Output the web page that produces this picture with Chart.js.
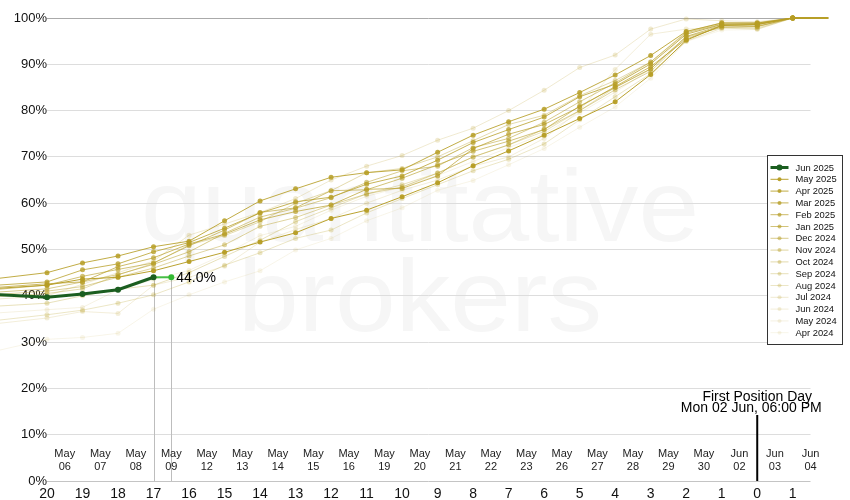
<!DOCTYPE html>
<html><head><meta charset="utf-8">
<script src="https://cdn.jsdelivr.net/npm/chart.js@4/dist/chart.umd.min.js"></script>
<style>html,body{margin:0;padding:0;background:#fff}canvas{display:block}</style>
</head><body>
<canvas id="c" width="850" height="500"></canvas>
<script>
// ---- tick labels ----
const dayLabels = ['20','19','18','17','16','15','14','13','12','11','10','9','8','7','6','5','4','3','2','1','0','1'];
const dateLabels = [['May','06'],['May','07'],['May','08'],['May','09'],['May','12'],['May','13'],['May','14'],['May','15'],['May','16'],['May','19'],['May','20'],['May','21'],['May','22'],['May','23'],['May','26'],['May','27'],['May','28'],['May','29'],['May','30'],['Jun','02'],['Jun','03'],['Jun','04']];
const firstPositionIndex = 20;
const firstPositionText = ['First Position Day', 'Mon 02 Jun, 06:00 PM'];

// ---- current contract ----
const jun2025 = [39.7, 40.4, 41.3, 44.0];
const jun2025Lead = 40.5;
const nowIndex = 3.5;
const nowValue = 44.0;

// ---- previous contracts (values for days 20..0, then 1) ----
const seriesNames = ['May 2025','Apr 2025','Mar 2025','Feb 2025','Jan 2025','Dec 2024','Nov 2024','Oct 2024','Sep 2024','Aug 2024','Jul 2024','Jun 2024','May 2024','Apr 2024'];
const may2025 = [42.3, 43.6, 44.0, 45.4, 47.4, 49.4, 51.6, 53.6, 56.7, 58.5, 61.4, 64.4, 68.1, 71.3, 74.7, 78.3, 81.9, 87.8, 95.2, 98.4, 98.6, 100];
const apr2025 = [45.0, 47.1, 48.6, 50.6, 51.8, 56.2, 60.5, 63.1, 65.6, 66.6, 67.2, 71.0, 74.7, 77.6, 80.3, 83.9, 87.7, 91.9, 97.1, 98.9, 98.9, 100];
const mar2025 = [43.0, 45.6, 46.9, 49.5, 51.5, 54.6, 57.9, 60.3, 61.3, 64.1, 65.9, 69.3, 73.1, 75.9, 78.6, 83.0, 85.7, 90.1, 96.5, 98.6, 98.7, 100];
const feb2025 = [42.6, 43.0, 46.3, 48.2, 51.2, 53.3, 56.4, 58.2, 59.6, 63.0, 63.2, 65.9, 71.8, 74.9, 77.0, 80.8, 85.2, 89.5, 95.4, 98.3, 98.2, 100];
const jan2025 = [42.3, 44.2, 45.7, 47.1, 50.8, 54.2, 58.0, 59.0, 62.7, 62.9, 65.4, 68.3, 71.2, 73.4, 75.9, 81.0, 85.0, 89.0, 96.0, 98.4, 98.5, 100];
const dec2024 = [41.5, 43.0, 44.6, 46.8, 49.5, 53.5, 57.0, 58.9, 61.2, 64.5, 67.0, 68.0, 72.0, 74.0, 77.5, 81.9, 86.0, 90.5, 96.8, 98.7, 98.8, 100];
const nov2024 = [41.0, 42.0, 44.0, 46.0, 48.6, 51.0, 55.0, 56.9, 59.6, 62.0, 63.5, 66.5, 70.0, 72.6, 76.0, 80.0, 84.5, 88.5, 95.8, 98.0, 98.1, 100];
const oct2024 = [40.5, 41.5, 44.5, 47.0, 51.0, 53.0, 56.0, 60.0, 62.7, 66.6, 67.5, 70.0, 73.5, 77.0, 79.0, 83.2, 86.5, 90.5, 97.0, 99.0, 99.0, 100];
const sep2024 = [38.4, 40.0, 41.4, 42.3, 45.0, 48.5, 52.0, 56.0, 59.0, 62.0, 64.0, 66.5, 70.0, 72.6, 75.5, 80.0, 85.0, 89.0, 96.0, 98.0, 97.8, 100];
const aug2024 = [35.9, 36.9, 38.4, 40.2, 43.0, 46.6, 49.3, 52.4, 54.2, 57.9, 61.0, 64.0, 67.0, 69.5, 72.8, 78.0, 83.0, 88.0, 95.0, 97.8, 97.6, 100];
const jul2024 = [40.0, 42.5, 45.0, 47.5, 53.1, 55.5, 58.0, 61.0, 65.0, 68.0, 70.3, 73.6, 76.2, 80.0, 84.4, 89.3, 92.0, 97.6, 99.8, 99.4, 99.2, 100];
const jun2024 = [35.2, 36.6, 36.2, 42.3, 44.0, 46.4, 51.6, 54.3, 56.7, 60.0, 62.8, 65.0, 68.0, 70.0, 74.0, 80.0, 88.9, 96.5, 97.6, 98.0, 98.2, 100];
const may2024 = [37.0, 37.5, 41.3, 43.5, 45.5, 49.0, 53.0, 55.0, 58.5, 61.5, 63.5, 66.0, 69.0, 72.0, 75.0, 79.5, 84.0, 89.0, 96.8, 99.0, 99.0, 100];
const apr2024 = [30.6, 31.0, 31.9, 37.1, 40.2, 43.0, 45.4, 49.9, 52.4, 56.2, 59.0, 62.8, 64.9, 68.3, 71.8, 76.4, 80.8, 87.0, 94.9, 97.4, 97.5, 100];
// value on the trading day before day 20 (off the left edge) and the day after (right edge)
const leadValues = [41.3, 43.2, 42.0, 41.5, 41.0, 40.5, 40.0, 39.5, 37.5, 34.2, 39.0, 33.5, 36.0, 27.1];
const tailValues = [100, 100, 100, 100, 100, 100, 100, 100, 100, 100, 100, 100, 100, 100];
const seriesAlpha = [0.95, 0.85, 0.77, 0.69, 0.61, 0.52, 0.44, 0.37, 0.31, 0.26, 0.21, 0.17, 0.13, 0.10];

const pastSeries = [may2025, apr2025, mar2025, feb2025, jan2025, dec2024, nov2024, oct2024, sep2024, aug2024, jul2024, jun2024, may2024, apr2024];

const FONT = '"Liberation Sans", Arial, Helvetica, sans-serif';
const GREEN = 'rgb(27,94,32)';
const gold = a => `rgba(182,157,36,${a})`;

function toPoints(vals, lead, tail) {
  const pts = [{x: -2, y: lead}];
  vals.forEach((v, i) => pts.push({x: i, y: v}));
  if (tail !== undefined) pts.push({x: vals.length, y: tail});
  return pts;
}
const inRange = c => (c.raw && c.raw.x >= 0 && c.raw.x <= dayLabels.length - 1);

const datasets = [
  {
    label: 'Jun 2025', data: toPoints(jun2025, jun2025Lead),
    borderColor: GREEN, backgroundColor: GREEN, pointBackgroundColor: GREEN,
    borderWidth: 3, pointRadius: c => inRange(c) ? 3 : 0, pointBorderWidth: 0, clip: false, legendWidth: 3
  },
  {
    label: 'now', hideInLegend: true,
    data: [{x: jun2025.length - 1, y: jun2025[jun2025.length - 1]}, {x: nowIndex, y: nowValue}],
    borderColor: 'rgb(70,190,70)', pointBackgroundColor: 'rgb(50,185,50)',
    borderWidth: 2, pointRadius: [0, 3], pointBorderWidth: 0, clip: false
  }
];
pastSeries.forEach((vals, k) => {
  const col = gold(seriesAlpha[k]);
  datasets.push({
    label: seriesNames[k], data: toPoints(vals, leadValues[k], tailValues[k]),
    borderColor: col, backgroundColor: col, pointBackgroundColor: col,
    borderWidth: 1, pointRadius: c => inRange(c) ? 2.5 : 0, pointBorderWidth: 0, clip: false, legendWidth: 1
  });
});

const decor = {
  id: 'decor',
  beforeDraw(chart) {
    const ctx = chart.ctx;
    ctx.save();
    ctx.fillStyle = '#f6f6f6';
    ctx.textAlign = 'center';
    ctx.textBaseline = 'alphabetic';
    ctx.font = '102px ' + FONT;
    ctx.translate(420, 0);
    ctx.scale(1.07, 1);
    ctx.fillText('quantitative', 0, 241);
    ctx.fillText('brokers', 0, 331);
    ctx.restore();
  },
  beforeDatasetsDraw(chart) {
    const {ctx, scales: {x, y}, chartArea} = chart;
    ctx.save();
    ctx.strokeStyle = '#bdbdbd';
    ctx.lineWidth = 1;
    const last = jun2025.length - 1;
    [[last, jun2025[last]], [nowIndex, nowValue]].forEach(([i, v]) => {
      const px = Math.round(x.getPixelForValue(i)) + 0.5;
      ctx.beginPath();
      ctx.moveTo(px, y.getPixelForValue(v));
      ctx.lineTo(px, chartArea.bottom);
      ctx.stroke();
    });
    ctx.restore();
  },
  afterDatasetsDraw(chart) {
    const {ctx, scales: {x, y}, chartArea} = chart;
    ctx.save();
    // date labels between day ticks
    ctx.fillStyle = '#222';
    ctx.font = '11px ' + FONT;
    ctx.textAlign = 'center';
    ctx.textBaseline = 'middle';
    dateLabels.forEach((d, i) => {
      const px = x.getPixelForValue(i + 0.5);
      ctx.fillText(d[0], px, chartArea.bottom - 27);
      ctx.fillText(d[1], px, chartArea.bottom - 14);
    });
    // first position day marker
    const fx = x.getPixelForValue(firstPositionIndex);
    ctx.strokeStyle = '#000';
    ctx.lineWidth = 2;
    ctx.beginPath();
    ctx.moveTo(fx, chartArea.bottom - 66);
    ctx.lineTo(fx, chartArea.bottom);
    ctx.stroke();
    ctx.fillStyle = '#000';
    ctx.font = '14px ' + FONT;
    ctx.textBaseline = 'alphabetic';
    ctx.fillText(firstPositionText[0], fx, chartArea.bottom - 80);
    ctx.fillText(firstPositionText[1], fx - 6, chartArea.bottom - 69);
    // current value label
    ctx.textAlign = 'left';
    ctx.textBaseline = 'middle';
    ctx.fillText(nowValue.toFixed(1) + '%', x.getPixelForValue(nowIndex) + 5, y.getPixelForValue(nowValue) + 1);
    ctx.restore();
  },
  afterDraw(chart) {
    const ctx = chart.ctx;
    const items = chart.data.datasets.filter(d => !d.hideInLegend);
    const L = 767.5, T = 155.5, W = 75, H = 189;
    ctx.save();
    ctx.fillStyle = '#fff';
    ctx.fillRect(L, T, W, H);
    ctx.strokeStyle = '#333';
    ctx.lineWidth = 1;
    ctx.strokeRect(L, T, W, H);
    ctx.font = '9.4px ' + FONT;
    ctx.textBaseline = 'middle';
    ctx.textAlign = 'left';
    items.forEach((d, i) => {
      const yy = T + 12 + i * 11.8;
      ctx.strokeStyle = d.borderColor;
      ctx.lineWidth = d.legendWidth;
      ctx.beginPath();
      ctx.moveTo(L + 3, yy);
      ctx.lineTo(L + 21, yy);
      ctx.stroke();
      ctx.fillStyle = d.pointBackgroundColor;
      ctx.beginPath();
      ctx.arc(L + 12, yy, i === 0 ? 3 : 2, 0, Math.PI * 2);
      ctx.fill();
      ctx.fillStyle = '#111';
      ctx.fillText(d.label, L + 28, yy + 0.5);
    });
    ctx.restore();
  }
};

new Chart(document.getElementById('c'), {
  type: 'line',
  data: {datasets},
  plugins: [decor],
  options: {
    responsive: false,
    animation: false,
    events: [],
    layout: {padding: {top: 18, right: 39.5, left: 0, bottom: 0}},
    plugins: {legend: {display: false}, tooltip: {enabled: false}},
    elements: {line: {tension: 0}},
    scales: {
      x: {
        type: 'linear', min: 0, max: 21.5,
        grid: {display: false}, border: {display: false},
        afterBuildTicks: s => { s.ticks = dayLabels.map((_, i) => ({value: i})); },
        afterFit: s => { s.height = 19; },
        ticks: {callback: v => dayLabels[v], font: {size: 14, family: FONT}, color: '#111', padding: -3, maxRotation: 0, autoSkip: false}
      },
      y: {
        min: 0, max: 100,
        afterFit: s => { s.width = 47; },
        border: {display: false},
        grid: {drawTicks: false, lineWidth: 1,
          color: c => c.tick.value === 100 ? '#aaaaaa' : (c.tick.value === 0 ? '#c4c4c4' : '#dddddd')},
        ticks: {stepSize: 10, callback: v => v + '%', padding: 0, font: {size: 13, family: FONT}, color: '#111'}
      }
    }
  }
});
</script>
</body></html>
